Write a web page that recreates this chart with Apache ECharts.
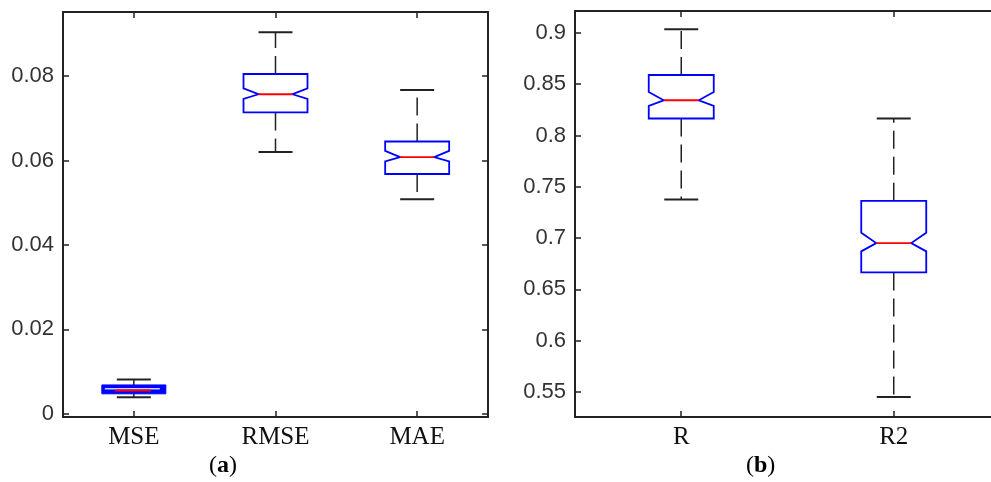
<!DOCTYPE html>
<html lang="en">
<head>
<meta charset="UTF-8">
<title>notched boxplots</title>
<script src="https://cdn.jsdelivr.net/npm/echarts@6/dist/echarts.min.js"></script>
<style>
    * { margin: 0; padding: 0; }
    html, body { background: #fff; overflow: hidden; }
    #paint { width: 991px; height: 482px; }
</style>
</head>
<body>
<div id="paint"></div>
<script>
// panel (a): error measures
var errNames = ['MSE', 'RMSE', 'MAE'];
var errLowWhisker = [0.0039, 0.0620, 0.0508];
var errQ1 = [0.0047, 0.0714, 0.0568];
var errNotchLow = [0.0052, 0.0746, 0.0598];
var errMedian = [0.0055, 0.0757, 0.0608];
var errNotchHigh = [0.0058, 0.0771, 0.0623];
var errQ3 = [0.0068, 0.0805, 0.0645];
var errHighWhisker = [0.0081, 0.0904, 0.0767];
var errTicks = [0, 0.02, 0.04, 0.06, 0.08];

// panel (b): correlation measures
var corrNames = ['R', 'R2'];
var corrLowWhisker = [0.7377, 0.5451];
var corrQ1 = [0.8166, 0.6665];
var corrNotchLow = [0.8289, 0.6871];
var corrMedian = [0.8344, 0.6951];
var corrNotchHigh = [0.8425, 0.7053];
var corrQ3 = [0.8590, 0.7363];
var corrHighWhisker = [0.9036, 0.8166];
var corrTicks = [0.55, 0.6, 0.65, 0.7, 0.75, 0.8, 0.85, 0.9];

// box positions: 0-based category index for (a), 1-based x value for (b)
function rows(names, start, lw, q1, nl, md, nh, q3, hw) {
    return names.map(function (n, i) {
        return [i + start, lw[i], q1[i], nl[i], md[i], nh[i], q3[i], hw[i]];
    });
}

var dark = '#222';

function notchedBox(halfW, inset, capHalf) {
    return function (params, api) {
        var c = api.value(0);
        var x = api.coord([c, api.value(4)])[0];
        var y = function (i) { return api.coord([c, api.value(i)])[1]; };
        var yLw = y(1), yQ1 = y(2), yNl = y(3), yMd = y(4), yNh = y(5), yQ3 = y(6), yHw = y(7);
        var L = x - halfW, R = x + halfW;
        var dash = { stroke: dark, lineWidth: 1.5, lineDash: [18, 8] };
        var cap = { stroke: dark, lineWidth: 2 };
        // very flat boxes end up as a solid blue bar in the original
        var flat = (yQ1 - yQ3) < 12;
        var kids = [
            { type: 'line', shape: { x1: x, y1: yQ3, x2: x, y2: yHw }, style: dash },
            { type: 'line', shape: { x1: x, y1: yQ1, x2: x, y2: yLw }, style: dash },
            { type: 'line', shape: { x1: x - capHalf, y1: yHw, x2: x + capHalf, y2: yHw }, style: cap },
            { type: 'line', shape: { x1: x - capHalf, y1: yLw, x2: x + capHalf, y2: yLw }, style: cap }
        ];
        if (flat) {
            kids.push({ type: 'rect', shape: { x: L, y: yQ3, width: 2 * halfW, height: yQ1 - yQ3 },
                style: { fill: '#0000ff', stroke: '#0000ff', lineWidth: 1 } });
            kids.push({ type: 'line', shape: { x1: L + 3, y1: yNh - 0.5, x2: R - 6, y2: yNh - 0.5 },
                style: { stroke: '#c8d4ff', lineWidth: 1.5 } });
            kids.push({ type: 'line', shape: { x1: L + inset - 2, y1: yMd, x2: R - inset, y2: yMd },
                style: { stroke: '#ff0000', lineWidth: 2 } });
        } else {
            kids.push({
                type: 'polygon',
                shape: { points: [[L, yQ3], [R, yQ3], [R, yNh], [R - inset, yMd], [R, yNl], [R, yQ1],
                    [L, yQ1], [L, yNl], [L + inset, yMd], [L, yNh]] },
                style: { fill: '#fff', stroke: '#0000ff', lineWidth: 1.8 }
            });
            kids.push({ type: 'line', shape: { x1: L + inset, y1: yMd, x2: R - inset, y2: yMd },
                style: { stroke: '#ff0000', lineWidth: 1.8 } });
        }
        return { type: 'group', children: kids };
    };
}

function axLine(show) {
    return { show: show, onZero: false, lineStyle: { color: dark, width: 2 } };
}
var catFont = { margin: 8, color: '#111', fontFamily: 'Liberation Serif', fontSize: 25 };

function catAxis(grid, names, pos, labels) {
    return {
        type: 'category', gridIndex: grid, data: names, position: pos, boundaryGap: true,
        axisLine: axLine(true),
        axisTick: { show: true, inside: true, length: 6, alignWithLabel: true, lineStyle: { color: dark, width: 1.5 } },
        axisLabel: Object.assign({ show: labels }, catFont),
        splitLine: { show: false }
    };
}

// panel (b) is cut off by the right edge of the picture, so its x range stops short of 2.5
function posAxis(grid, names, pos, labels) {
    var at = names.map(function (n, i) { return i + 1; });
    return {
        type: 'value', gridIndex: grid, min: 0.5, max: 2.4577, position: pos,
        axisLine: axLine(true),
        axisTick: { show: true, inside: true, length: 6, customValues: at, lineStyle: { color: dark, width: 1.5 } },
        axisLabel: Object.assign({ show: labels, customValues: at,
            formatter: function (v) { return names[Math.round(v) - 1]; } }, catFont),
        splitLine: { show: false }
    };
}

function valAxis(grid, lo, hi, ticks, pos, labels) {
    return {
        type: 'value', gridIndex: grid, min: lo, max: hi, position: pos,
        axisLine: axLine(true),
        axisTick: { show: true, inside: true, length: 6, customValues: ticks, lineStyle: { color: dark, width: 1.5 } },
        axisLabel: { show: labels, customValues: ticks, margin: 9, color: '#333',
            fontFamily: 'Liberation Sans', fontSize: 22 },
        splitLine: { show: false }
    };
}

var mychart = echarts.init(document.getElementById('paint'));

var capStyle = {
    fill: '#000', font: '24px "Liberation Serif"',
    rich: { b: { fontWeight: 'bold', fontSize: 24, fontFamily: 'Liberation Serif' } }
};

var option = {
    animation: false,
    backgroundColor: '#fff',
    grid: [
        { left: 63, top: 12, right: 503, bottom: 65 },
        { left: 575, top: 11, right: 0, bottom: 65 }
    ],
    xAxis: [
        catAxis(0, errNames, 'bottom', true),
        catAxis(0, errNames, 'top', false),
        posAxis(1, corrNames, 'bottom', true),
        posAxis(1, corrNames, 'top', false)
    ],
    yAxis: [
        valAxis(0, -0.0008, 0.0952, errTicks, 'left', true),
        valAxis(0, -0.0008, 0.0952, errTicks, 'right', false),
        valAxis(1, 0.5256, 0.9214, corrTicks, 'left', true)
    ],
    graphic: [
        { type: 'text', left: 209, top: 454, style: Object.assign({ text: '({b|a})' }, capStyle) },
        { type: 'text', left: 746, top: 454, style: Object.assign({ text: '({b|b})' }, capStyle) }
    ],
    series: [
        {
            type: 'custom', xAxisIndex: 0, yAxisIndex: 0,
            renderItem: notchedBox(32, 15, 17),
            encode: { x: 0, y: [1, 2, 3, 4, 5, 6, 7] },
            data: rows(errNames, 0, errLowWhisker, errQ1, errNotchLow, errMedian, errNotchHigh, errQ3, errHighWhisker)
        },
        {
            type: 'custom', xAxisIndex: 2, yAxisIndex: 2,
            renderItem: notchedBox(32.5, 15, 17),
            encode: { x: 0, y: [1, 2, 3, 4, 5, 6, 7] },
            data: rows(corrNames, 1, corrLowWhisker, corrQ1, corrNotchLow, corrMedian, corrNotchHigh, corrQ3, corrHighWhisker)
        }
    ]
};
mychart.setOption(option);
</script>
</body>
</html>
